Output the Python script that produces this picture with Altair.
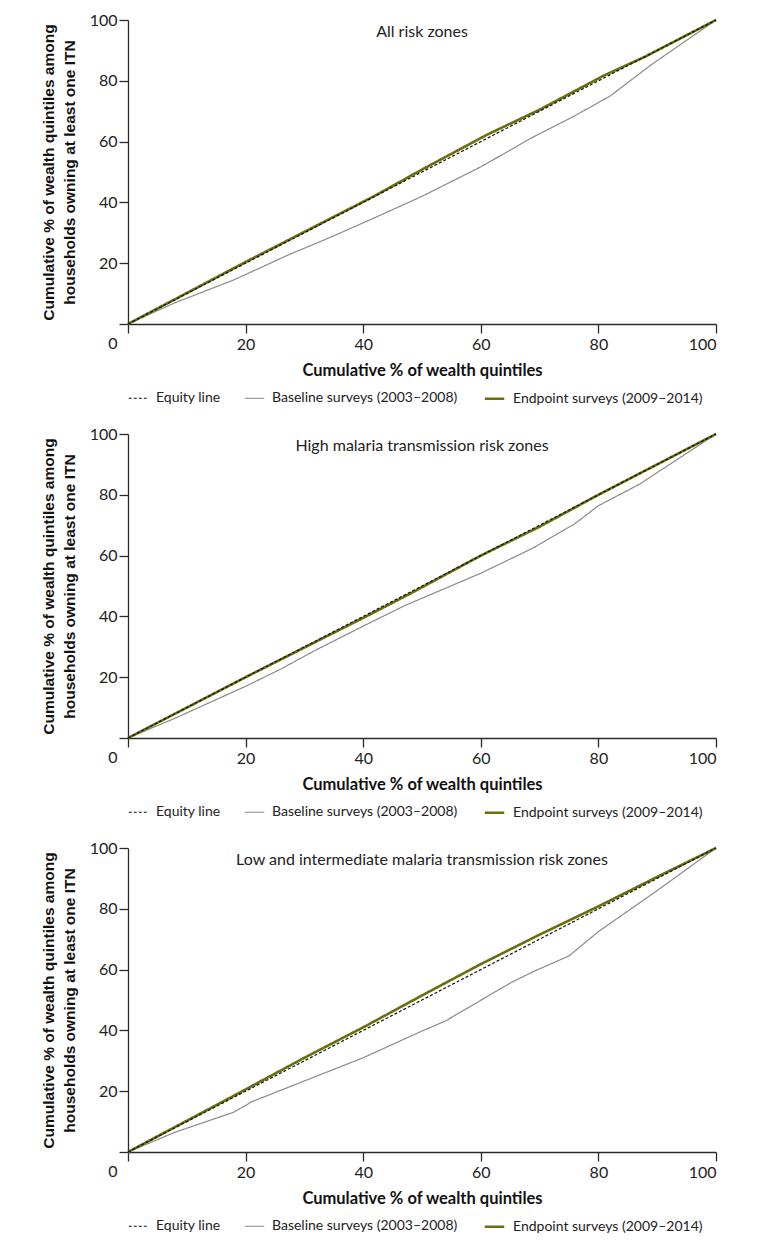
import altair as alt
import pandas as pd

SERIES = ["Equity line", "Baseline surveys (2003\u20132008)", "Endpoint surveys (2009\u20132014)"]
COLORS = ["#111111", "#8a8a8a", "#6b6e0c"]
DASHES = [[3, 2], [1, 0], [1, 0]]
WIDTHS = [1.2, 1.2, 2.6]

PANEL_TITLES = [
    "All risk zones",
    "High malaria transmission risk zones",
    "Low and intermediate malaria transmission risk zones",
]

equity_x = [0, 100]
equity_y = [0, 100]

# All risk zones
all_base_x = [0, 8, 18, 27, 35, 42, 50, 60, 69, 76, 82, 89, 100]
all_base_y = [0, 7, 14.5, 22.5, 29, 35, 42, 51.7, 61.6, 68.5, 75, 85.3, 100]
all_end_x = [0, 20, 42, 50, 61, 70, 81, 88, 100]
all_end_y = [0, 20.4, 42.2, 50.8, 62.2, 70.5, 81.8, 88, 100]

# High transmission risk zones
high_base_x = [0, 8, 20, 26, 32, 40, 47, 60, 69, 76, 80, 87, 100]
high_base_y = [0, 6.5, 17, 22.7, 29, 36.8, 43.5, 54.2, 62.6, 70.5, 76.4, 83.5, 100]
high_end_x = [0, 20, 40, 48, 60, 70, 80, 100]
high_end_y = [0, 20, 39.5, 47.5, 60, 69.5, 80, 100]

# Low and intermediate transmission risk zones
low_base_x = [0, 8, 18, 21, 40, 50, 54, 65, 69, 75, 80, 90, 100]
low_base_y = [0, 6.5, 13.1, 16.5, 31, 39.8, 43.1, 55.6, 59.4, 64.5, 72.5, 86, 100]
low_end_x = [0, 18, 30, 40, 50, 60, 70, 80, 90, 100]
low_end_y = [0, 18.5, 31, 41, 51.5, 61.8, 71.5, 80.8, 90.5, 100]

PANELS = [
    (PANEL_TITLES[0], all_base_x, all_base_y, all_end_x, all_end_y),
    (PANEL_TITLES[1], high_base_x, high_base_y, high_end_x, high_end_y),
    (PANEL_TITLES[2], low_base_x, low_base_y, low_end_x, low_end_y),
]

W, H = 588, 304
NARROW = "Lato, sans-serif"
AXIS_COLOR = "#2b2b2b"


def make_panel(title, bx, by, ex, ey):
    rows = []
    for x, y in zip(equity_x, equity_y):
        rows.append({"x": x, "y": y, "series": SERIES[0]})
    for x, y in zip(bx, by):
        rows.append({"x": x, "y": y, "series": SERIES[1]})
    for x, y in zip(ex, ey):
        rows.append({"x": x, "y": y, "series": SERIES[2]})
    df = pd.DataFrame(rows)

    xenc = alt.X(
        "x:Q",
        scale=alt.Scale(domain=[0, 100], nice=False, zero=True),
        axis=alt.Axis(
            title="Cumulative % of wealth quintiles",
            values=[0, 20, 40, 60, 80, 100],
            labelExpr="datum.value == 0 ? '' : datum.label",
            grid=False,
        ),
    )
    yenc = alt.Y(
        "y:Q",
        scale=alt.Scale(domain=[0, 100], nice=False),
        axis=alt.Axis(
            title=["Cumulative % of wealth quintiles among", "households owning at least one ITN"],
            values=[0, 20, 40, 60, 80, 100],
            labelOffset={"condition": {"test": "datum.value === 0", "value": 19}, "value": 0},
            grid=False,
        ),
    )
    legend = alt.Legend(
        title=None,
        orient="bottom",
        direction="horizontal",
        symbolType="stroke",
        symbolSize=380,
        labelFont=NARROW,
        labelFontSize=14,
        labelColor="#222222",
        labelLimit=0,
        columnPadding=21,
        labelOffset=7,
        offset=8,
    )
    color = alt.Color("series:N", scale=alt.Scale(type="ordinal", domain=SERIES, range=COLORS), legend=legend)
    dash = alt.StrokeDash("series:N", scale=alt.Scale(type="ordinal", domain=SERIES, range=DASHES), legend=legend)
    width = alt.StrokeWidth("series:N", scale=alt.Scale(type="ordinal", domain=SERIES, range=WIDTHS), legend=legend)

    layers = []
    for s in [SERIES[1], SERIES[2], SERIES[0]]:
        layers.append(
            alt.Chart(df)
            .transform_filter(alt.datum.series == s)
            .mark_line(strokeCap="butt")
            .encode(x=xenc, y=yenc, color=color, strokeDash=dash, strokeWidth=width, order="x:Q")
        )
    label = (
        alt.Chart(pd.DataFrame({"t": [title]}))
        .mark_text(font=NARROW, fontSize=16, color="#222222", baseline="middle", align="center")
        .encode(text="t:N", x=alt.value(W / 2), y=alt.value(12))
    )
    return alt.layer(*layers, label).properties(width=W, height=H)


panels = [make_panel(*p) for p in PANELS]

chart = (
    alt.vconcat(*panels, spacing=20)
    .resolve_scale(color="independent", strokeDash="independent", strokeWidth="independent")
    .resolve_legend(color="independent", strokeDash="independent", strokeWidth="independent")
    .properties(padding={"left": 33, "top": 4, "right": 10, "bottom": 5})
    .configure_view(stroke=None)
    .configure_axis(
        domainColor=AXIS_COLOR,
        domainWidth=1.3,
        tickColor=AXIS_COLOR,
        tickWidth=1.3,
        tickSize=9,
        labelFont=NARROW,
        labelFontSize=16,
        labelColor="#222222",
        labelPadding=2,
        titleColor="#111111",
    )
    .configure_axisX(
        titleFont=NARROW,
        titleFontSize=16.5,
        titleFontWeight="bold",
        titlePadding=10,
        labelPadding=3,
    )
    .configure_axisY(
        titleFont="Liberation Sans, Arial, sans-serif",
        titleFontSize=15.5,
        titleFontWeight="bold",
        titleLineHeight=21,
        titlePadding=12,
    )
)

chart.save("out.html", embed_options={"renderer": "svg", "actions": False})
